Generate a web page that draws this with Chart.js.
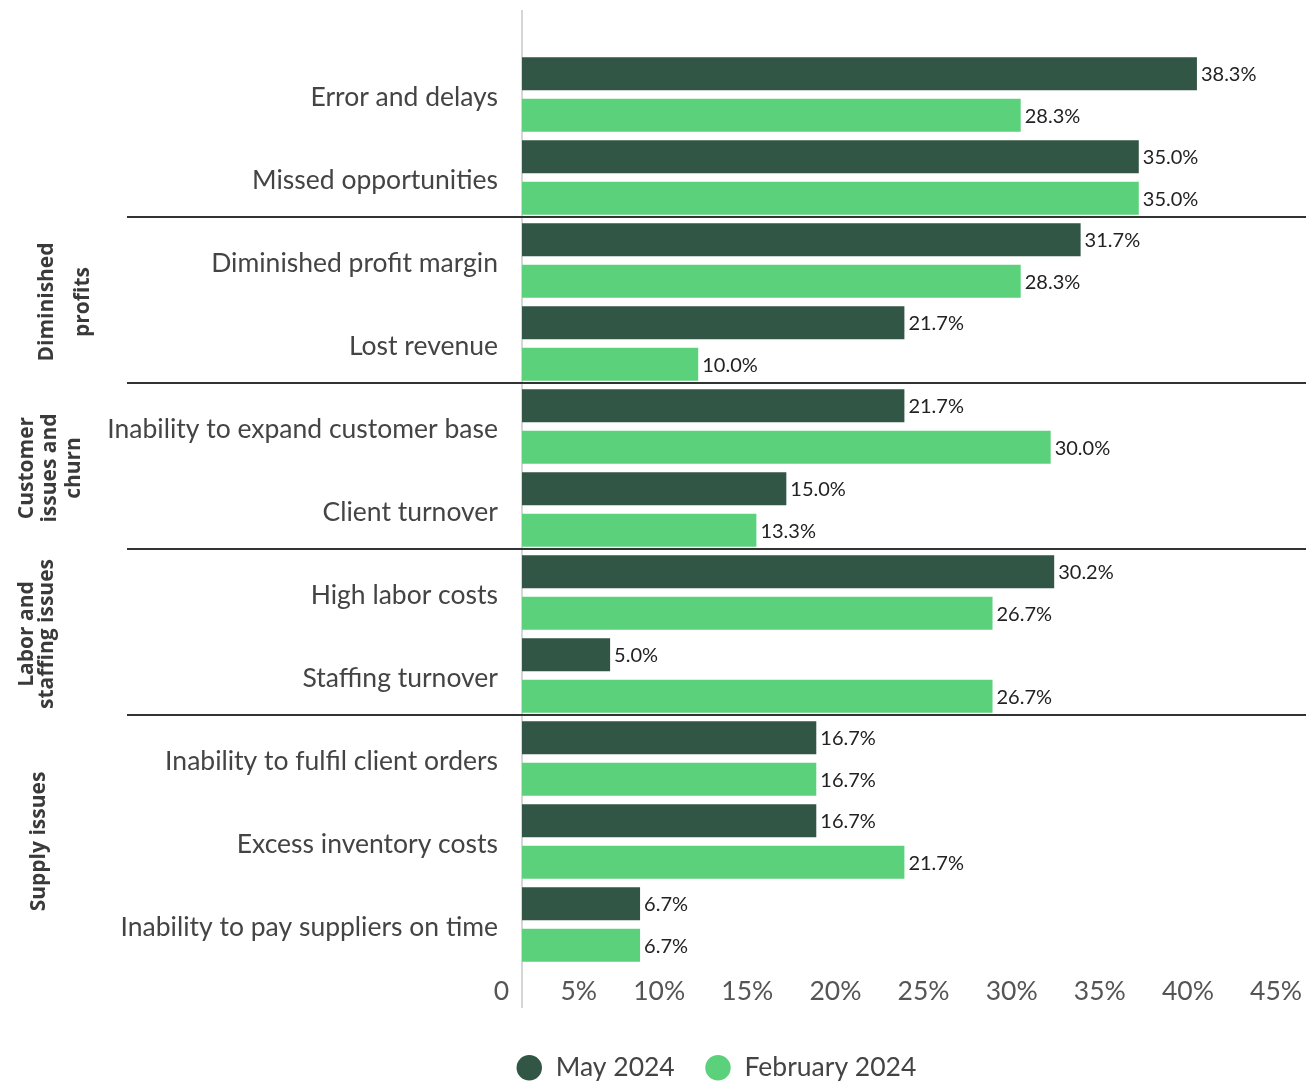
<!DOCTYPE html>
<html>
<head>
<meta charset="utf-8">
<script src="https://cdn.jsdelivr.net/npm/chart.js@4.4.1/dist/chart.umd.min.js"></script>
<style>
  html, body { margin: 0; padding: 0; background: #fff; overflow: hidden; }
  #wrap { width: 1325px; height: 1084px; }
</style>
</head>
<body>
<div id="wrap"><canvas id="impactChart" width="1325" height="1084"></canvas></div>
<script>
// Impacts reported, May vs February 2024 (%)
const categories = [
  'Error and delays',
  'Missed opportunities',
  'Diminished profit margin',
  'Lost revenue',
  'Inability to expand customer base',
  'Client turnover',
  'High labor costs',
  'Staffing turnover',
  'Inability to fulfil client orders',
  'Excess inventory costs',
  'Inability to pay suppliers on time'
];
const may2024 = [38.3, 35.0, 31.7, 21.7, 21.7, 15.0, 30.2, 5.0, 16.7, 16.7, 6.7];
const feb2024 = [28.3, 35.0, 28.3, 10.0, 30.0, 13.3, 26.7, 26.7, 16.7, 21.7, 6.7];
const seriesNames = ['May 2024', 'February 2024'];
const xTicks = [0, 5, 10, 15, 20, 25, 30, 35, 40, 45];

// category groups shown on the far left (first/last category index)
const groupLines = [['Diminished', 'profits'], ['Customer', 'issues and', 'churn'], ['Labor and', 'staffing issues'], ['Supply issues']];
const groupFirst = [2, 4, 6, 8];
const groupLast = [3, 5, 7, 10];

const DARK = '#325645';
const LIGHT = '#5cd17b';

// baseline x of each rotated group label line
const groupBaselines = [[53, 89], [33, 56, 80], [33, 53], [45]];

const groupPlugin = {
  id: 'groups',
  afterLayout(chart) {
    // start the legend just left of the value axis
    chart.legend.left = chart.chartArea.left - 36;
  },
  beforeDatasetsDraw(chart) {
    const ctx = chart.ctx;
    const area = chart.chartArea;
    const y = chart.scales.y;
    ctx.save();
    // value axis line
    ctx.strokeStyle = '#d6d6d6';
    ctx.lineWidth = 2;
    ctx.beginPath();
    ctx.moveTo(area.left, 10);
    ctx.lineTo(area.left, 1008);
    ctx.stroke();

    // separators between groups
    ctx.strokeStyle = '#333';
    ctx.lineWidth = 2;
    groupFirst.forEach(i => {
      const py = Math.round((y.getPixelForValue(i - 1) + y.getPixelForValue(i)) / 2) - 2;
      ctx.beginPath();
      ctx.moveTo(127, py);
      ctx.lineTo(chart.width, py);
      ctx.stroke();
    });

    // rotated group labels
    ctx.fillStyle = '#3a3a3a';
    ctx.font = 'bold 21px "Open Sans"';
    ctx.textAlign = 'center';
    ctx.textBaseline = 'alphabetic';
    groupLines.forEach((lines, g) => {
      const top = (y.getPixelForValue(groupFirst[g] - 1) + y.getPixelForValue(groupFirst[g])) / 2;
      const bottom = groupLast[g] + 1 < categories.length
        ? (y.getPixelForValue(groupLast[g]) + y.getPixelForValue(groupLast[g] + 1)) / 2
        : area.bottom;
      const cy = (top + bottom) / 2;
      lines.forEach((txt, k) => {
        ctx.save();
        ctx.translate(groupBaselines[g][k], cy);
        ctx.rotate(-Math.PI / 2);
        ctx.fillText(txt, 0, 0);
        ctx.restore();
      });
    });
    ctx.restore();
  },
  afterDatasetsDraw(chart) {
    // value labels at the end of each bar
    const ctx = chart.ctx;
    ctx.save();
    ctx.fillStyle = '#222';
    ctx.font = '20px Lato';
    ctx.textAlign = 'left';
    ctx.textBaseline = 'middle';
    chart.data.datasets.forEach((ds, di) => {
      chart.getDatasetMeta(di).data.forEach((bar, i) => {
        ctx.fillText(ds.data[i].toFixed(1) + '%', bar.x + 4, bar.y + 1);
      });
    });
    ctx.restore();
  }
};

new Chart(document.getElementById('impactChart'), {
  type: 'bar',
  data: {
    labels: categories,
    datasets: [{
      label: seriesNames[0],
      data: may2024,
      backgroundColor: DARK
    }, {
      label: seriesNames[1],
      data: feb2024,
      backgroundColor: LIGHT
    }]
  },
  options: {
    indexAxis: 'y',
    responsive: false,
    animation: false,
    layout: { padding: { top: 53, right: 0, bottom: -7, left: 0 } },
    datasets: {
      bar: { categoryPercentage: 1.0, barPercentage: 0.8 }
    },
    scales: {
      x: {
        min: 0,
        max: 45,
        afterBuildTicks(scale) {
          scale.ticks = xTicks.map(v => ({ value: v }));
        },
        afterFit(scale) {
          scale.height = 58.5;
        },
        grid: { display: false, drawTicks: false },
        border: { display: false },
        ticks: {
          align: 'end',
          labelOffset: -13,
          padding: 10,
          color: '#555',
          font: { family: 'Lato', size: 26.5 },
          callback: v => v === 0 ? '0' : v + '%'
        }
      },
      y: {
        afterFit(scale) {
          scale.width = 522;
        },
        grid: { display: false, drawTicks: false },
        border: { display: false },
        ticks: {
          padding: 24,
          labelOffset: 3,
          color: '#444',
          font: { family: 'Lato', size: 26.5 }
        }
      }
    },
    plugins: {
      tooltip: { enabled: false },
      legend: {
        position: 'bottom',
        align: 'start',
        labels: {
          usePointStyle: true,
          pointStyle: 'circle',
          boxWidth: 27,
          boxHeight: 18,
          padding: 30,
          color: '#444',
          font: { family: 'Lato', size: 26.5 }
        }
      }
    }
  },
  plugins: [groupPlugin]
});
</script>
</body>
</html>
